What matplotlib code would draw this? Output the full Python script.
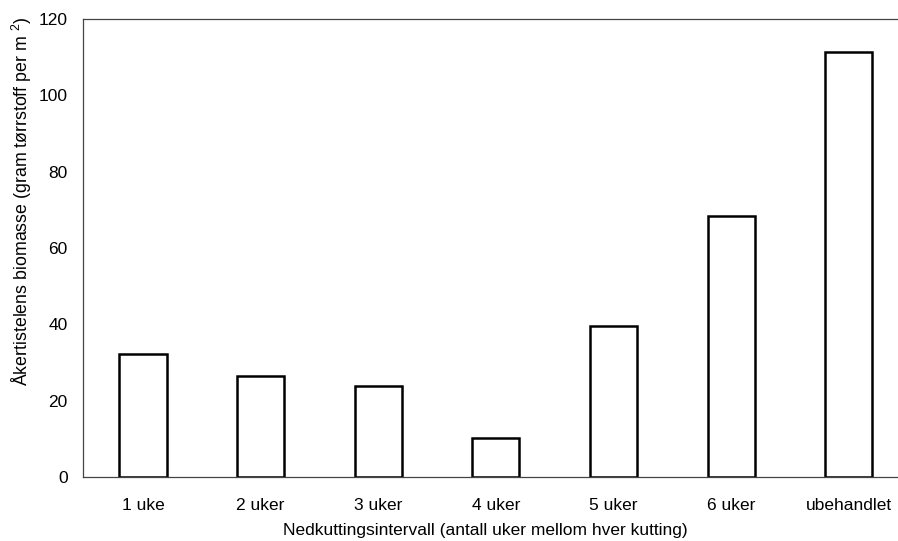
import matplotlib
matplotlib.use("Agg")
import matplotlib.pyplot as plt

categories = ["1 uke", "2 uker", "3 uker", "4 uker", "5 uker", "6 uker", "ubehandlet"]
biomass = [32.3, 26.4, 23.8, 10.2, 39.6, 68.3, 111.3]
yticks = [0, 20, 40, 60, 80, 100, 120]

plt.rcParams['font.family'] = ['Liberation Sans', 'DejaVu Sans']
plt.rcParams['mathtext.fontset'] = 'custom'
plt.rcParams['mathtext.rm'] = 'Liberation Sans'
plt.rcParams['mathtext.it'] = 'Liberation Sans'

fig = plt.figure(figsize=(8.98, 5.41), dpi=100)
ax = fig.add_axes([83/898, 1-477/541, (907.6-83)/898, (477-19)/541])

x = list(range(len(categories)))
ax.bar(x, biomass, width=0.40, color="white", edgecolor="black", linewidth=1.8)

ax.set_xlim(-0.51, 6.5)
ax.set_ylim(0, 120)
ax.set_yticks(yticks)
ax.set_yticklabels([str(v) for v in yticks], fontsize=12.5)
ax.set_xticks(x)
ax.set_xticklabels(categories, fontsize=12.5)
ax.tick_params(axis='both', length=0)
ax.tick_params(axis='y', pad=11)
ax.tick_params(axis='x', pad=15)

for s in ["left", "bottom", "top"]:
    ax.spines[s].set_color("#444444")
    ax.spines[s].set_linewidth(0.9)
ax.spines["right"].set_visible(False)

ax.set_xlabel("Nedkuttingsintervall (antall uker mellom hver kutting)", fontsize=12.5, va="center")
ax.xaxis.set_label_coords(485/898, 1-531/541, transform=fig.transFigure)
ax.set_ylabel(r"Åkertistelens biomasse (gram tørrstoff per m $^{2}$)", fontsize=12.8, va="center")
ax.yaxis.set_label_coords(22/898, 1-201/541, transform=fig.transFigure)

fig.savefig("out.png", dpi=100)
